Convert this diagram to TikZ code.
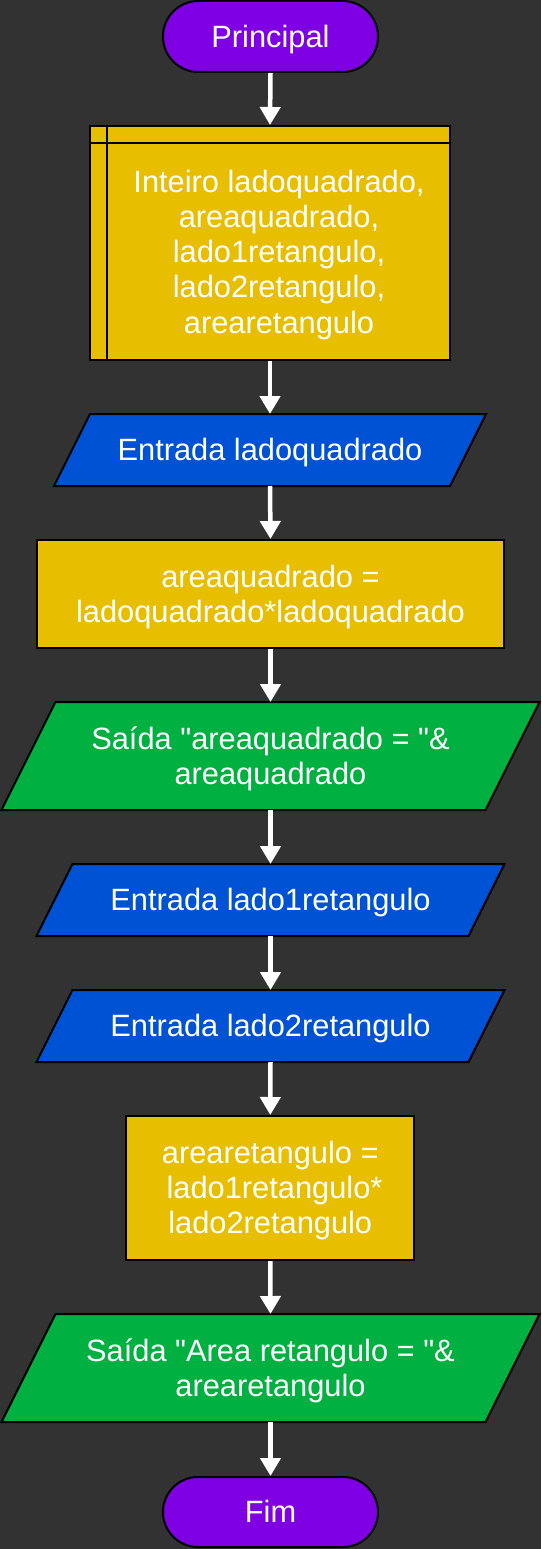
\documentclass[tikz,border=0pt]{standalone}
\usepackage{fontspec}
\setmainfont{Liberation Sans}[Ligatures=TeXOff]
\usetikzlibrary{arrows.meta,shapes.misc}
\pgfdeclarelayer{bg}
\pgfsetlayers{bg,main}
\definecolor{bgc}{RGB}{50,50,50}
\definecolor{purp}{RGB}{128,0,228}
\definecolor{gold}{RGB}{232,190,0}
\definecolor{iblue}{RGB}{0,82,212}
\definecolor{ogreen}{RGB}{0,176,64}
\newcommand\ls{\rule[-6.5pt]{0pt}{34.3pt}}
\newcommand\ioshape[3]{%
  \begin{pgfonlayer}{bg}
    \draw[outl, fill=#2] ([xshift=-#3]#1.south west) -- ([xshift=-#3]#1.south east)
      -- ([xshift=#3]#1.north east) -- ([xshift=#3]#1.north west) -- cycle;
  \end{pgfonlayer}}
\begin{document}
\begin{tikzpicture}[x=1pt,y=-1pt,
  txt/.style={text=white, font=\fontsize{30.8}{35.3}\selectfont, align=center, inner sep=0pt},
  outl/.style={draw=black, line width=2pt, line join=miter},
  term/.style={txt, rounded rectangle, outl, fill=purp, minimum width=215pt, minimum height=71pt},
  box/.style={txt, rectangle, outl, fill=gold},
  io/.style={txt, rectangle, outer sep=0pt},
  arr/.style={draw=white, line width=4.5pt, -{Triangle[width=20pt,length=18pt]}}
]
\begin{pgfonlayer}{bg}
  \fill[bgc] (0,0) rectangle (541,1549);
\end{pgfonlayer}
\useasboundingbox (0,0) rectangle (541,1549);

\node[term] (start) at (270.5,36.5) {\ls Principal};

\node[box, minimum width=360pt, minimum height=234pt] (decl) at (270,243) {};
\draw[outl] ([xshift=18pt]decl.north west) -- ([xshift=18pt]decl.south west);
\draw[outl] ([yshift=-18pt]decl.north west) -- ([yshift=-18pt]decl.north east);
\node[txt] (decltext) at (279,252) {\ls Inteiro ladoquadrado,\\\ls areaquadrado,\\\ls lado1retangulo,\\\ls lado2retangulo,\\\ls arearetangulo};

\node[io, minimum width=396pt, minimum height=72pt] (in1) at (270,450) {\ls Entrada ladoquadrado};
\ioshape{in1}{iblue}{18pt}

\node[box, minimum width=467pt, minimum height=108pt] (proc1) at (270.5,594) {\ls areaquadrado =\\\ls ladoquadrado*ladoquadrado};

\node[io, minimum width=484pt, minimum height=108pt] (out1) at (270.5,756) {\ls Saída "areaquadrado = "\&\\\ls areaquadrado};
\ioshape{out1}{ogreen}{27pt}

\node[io, minimum width=432pt, minimum height=72pt] (in2) at (270.5,900) {\ls Entrada lado1retangulo};
\ioshape{in2}{iblue}{18pt}

\node[io, minimum width=432pt, minimum height=72pt] (in3) at (270.5,1026) {\ls Entrada lado2retangulo};
\ioshape{in3}{iblue}{18pt}

\node[box, minimum width=288pt, minimum height=144pt] (proc2) at (270.25,1188) {\ls arearetangulo =\\\ls\hspace*{0.278em}lado1retangulo*\\\ls lado2retangulo};

\node[io, minimum width=484pt, minimum height=108pt] (out2) at (270.5,1368) {\ls Saída "Area retangulo = "\&\\\ls arearetangulo};
\ioshape{out2}{ogreen}{27pt}

\node[term, minimum height=70pt] (stop) at (270.5,1512) {\ls Fim};

\draw[arr] (start.south) -- (decl.north);
\draw[arr] (decl.south) -- (in1.north);
\draw[arr] (in1.south) -- (proc1.north);
\draw[arr] (proc1.south) -- (out1.north);
\draw[arr] (out1.south) -- (in2.north);
\draw[arr] (in2.south) -- (in3.north);
\draw[arr] (in3.south) -- (proc2.north);
\draw[arr] (proc2.south) -- (out2.north);
\draw[arr] (out2.south) -- (stop.north);
\end{tikzpicture}
\end{document}
